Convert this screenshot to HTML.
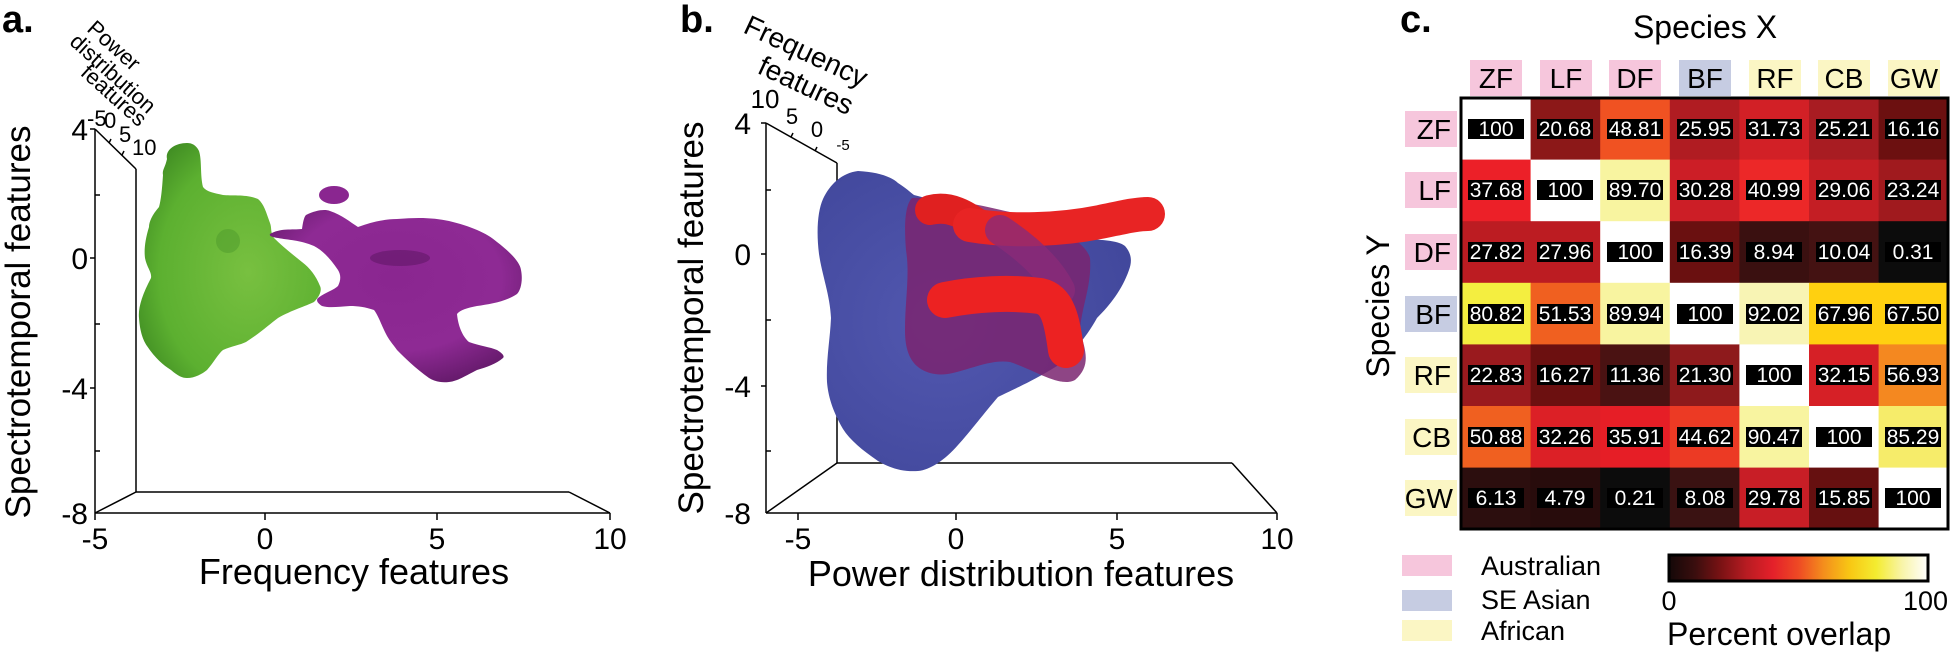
<!DOCTYPE html>
<html><head><meta charset="utf-8"><style>
html,body{margin:0;padding:0;background:#fff;}
svg{display:block;font-family:"Liberation Sans",Arial,sans-serif;}
</style></head><body>
<svg width="1953" height="658" viewBox="0 0 1953 658" xmlns="http://www.w3.org/2000/svg">
<defs>
<radialGradient id="gg" cx="0.6" cy="0.55" r="0.7"><stop offset="0" stop-color="#78c040"/><stop offset="0.7" stop-color="#5cb030"/><stop offset="1" stop-color="#3e8a22"/></radialGradient>
<radialGradient id="pg" cx="0.5" cy="0.4" r="0.7"><stop offset="0" stop-color="#8a2690"/><stop offset="0.6" stop-color="#8e2a94"/><stop offset="1" stop-color="#5a1660"/></radialGradient>
<radialGradient id="bg" cx="0.4" cy="0.5" r="0.7"><stop offset="0" stop-color="#5258b0"/><stop offset="1" stop-color="#40469a"/></radialGradient>
<linearGradient id="cb" x1="0" x2="1" y1="0" y2="0">
<stop offset="0" stop-color="#140808"/><stop offset="0.1" stop-color="#3a0e0e"/><stop offset="0.2" stop-color="#7a1214"/><stop offset="0.3" stop-color="#b81c22"/><stop offset="0.4" stop-color="#e4202a"/><stop offset="0.5" stop-color="#ee4a24"/><stop offset="0.6" stop-color="#f4901c"/><stop offset="0.7" stop-color="#f8c814"/><stop offset="0.8" stop-color="#f4ec30"/><stop offset="0.9" stop-color="#f8f4a8"/><stop offset="1" stop-color="#ffffff"/></linearGradient>
</defs>

<!-- ===== Panel a ===== -->
<text x="2" y="32" font-size="38" font-weight="bold">a.</text>
<g stroke="#000" stroke-width="1.5" fill="none">
<line x1="95" y1="129" x2="95" y2="513"/>
<line x1="136" y1="169" x2="136" y2="492"/>
<line x1="95" y1="129" x2="136" y2="169"/>
<line x1="95" y1="513" x2="610" y2="513"/>
<line x1="136" y1="492" x2="569" y2="492"/>
<line x1="95" y1="513" x2="136" y2="492"/>
<line x1="569" y1="492" x2="610" y2="513"/>
<line x1="95" y1="513" x2="95" y2="520"/><line x1="265" y1="513" x2="265" y2="520"/><line x1="437" y1="513" x2="437" y2="520"/><line x1="610" y1="513" x2="610" y2="520"/>
<line x1="90" y1="129" x2="95" y2="129"/><line x1="95" y1="195" x2="100" y2="195"/><line x1="90" y1="258" x2="95" y2="258"/><line x1="95" y1="324" x2="100" y2="324"/><line x1="90" y1="388" x2="95" y2="388"/><line x1="95" y1="451" x2="100" y2="451"/>
<line x1="109" y1="143" x2="111" y2="139"/><line x1="122" y1="155" x2="124" y2="151"/>
</g>
<g font-size="30" text-anchor="end">
<text x="88" y="140">4</text><text x="88" y="269">0</text><text x="88" y="399">-4</text><text x="88" y="524">-8</text>
</g>
<g font-size="30" text-anchor="middle">
<text x="95" y="549">-5</text><text x="265" y="549">0</text><text x="437" y="549">5</text><text x="610" y="549">10</text>
</g>
<g font-size="22">
<text x="87" y="126">-5</text><text x="104" y="128">0</text><text x="119" y="142">5</text><text x="132" y="155">10</text>
</g>
<g font-size="22" text-anchor="middle">
<text transform="translate(109,51) rotate(42)">Power</text>
<text transform="translate(108,79) rotate(42)">distribution</text>
<text transform="translate(109,101) rotate(42)">features</text>
</g>
<text x="354" y="584" font-size="36" text-anchor="middle">Frequency features</text>
<text transform="translate(30,322) rotate(-90)" font-size="35" text-anchor="middle">Spectrotemporal features</text>
<!-- green blob -->
<path fill="url(#gg)" d="M187,143 C175,143 165,150 167,159 C165,168 162,170 163,175 C162,190 161,200 159,207 C152,215 149,222 149,227 C145,240 144,250 145,258 C147,268 152,272 151,278 C142,295 138,308 139,318 C140,332 143,340 147,346 C155,358 163,365 171,370 C178,376 182,378 187,378 C195,378 202,374 207,370 C214,362 218,354 223,350 C232,346 240,345 246,342 C260,333 270,324 278,318 C292,310 306,306 314,302 C320,296 322,290 320,286 C316,276 310,268 302,262 C292,254 282,246 274,238 C270,232 272,228 270,223 C266,212 264,204 258,199 C246,194 232,196 223,195 C214,193 207,192 203,187 C200,175 202,160 199,151 C196,145 192,143 187,143Z"/>
<ellipse cx="228" cy="241" rx="12" ry="12" fill="#4e9a2c" opacity="0.5"/>
<!-- purple blob -->
<path fill="url(#pg)" d="M270,234 C280,228 292,230 302,229 C303,222 304,217 306,215 C316,210 325,209 330,211 C342,215 350,222 358,227 C372,222 385,219 397,219 C420,217 435,218 449,221 C470,226 487,233 497,242 C510,252 520,262 521,270 C523,280 521,290 517,294 C505,302 490,304 477,306 C467,308 460,310 457,314 C458,325 462,336 469,342 C480,346 490,347 497,350 C502,353 505,356 503,358 C496,364 487,367 477,370 C465,376 458,381 449,382 C440,383 434,381 429,378 C415,368 405,358 397,350 C392,343 389,340 386,334 C381,324 378,315 374,310 C365,307 358,306 350,306 C338,307 328,308 322,306 C317,303 316,300 318,298 C326,292 334,290 338,286 C341,280 341,275 338,270 C330,258 322,250 314,246 C300,240 288,240 278,238 C272,237 269,236 270,234Z"/>
<ellipse cx="400" cy="258" rx="30" ry="8" fill="#5a1460" opacity="0.5"/>
<ellipse cx="334" cy="195" rx="15" ry="9" fill="#8a2690"/>

<!-- ===== Panel b ===== -->
<text x="680" y="32" font-size="38" font-weight="bold">b.</text>
<g stroke="#000" stroke-width="1.5" fill="none">
<line x1="766" y1="123" x2="766" y2="513"/>
<line x1="837" y1="163" x2="837" y2="463"/>
<line x1="766" y1="123" x2="837" y2="163"/>
<line x1="766" y1="513" x2="1277" y2="513"/>
<line x1="837" y1="463" x2="1232" y2="463"/>
<line x1="766" y1="513" x2="837" y2="463"/>
<line x1="1232" y1="463" x2="1277" y2="513"/>
<line x1="798" y1="513" x2="798" y2="520"/><line x1="956" y1="513" x2="956" y2="520"/><line x1="1117" y1="513" x2="1117" y2="520"/><line x1="1277" y1="513" x2="1277" y2="520"/>
<line x1="761" y1="123" x2="766" y2="123"/><line x1="766" y1="190" x2="771" y2="190"/><line x1="761" y1="254" x2="766" y2="254"/><line x1="766" y1="320" x2="771" y2="320"/><line x1="761" y1="386" x2="766" y2="386"/><line x1="766" y1="451" x2="771" y2="451"/>
<line x1="791" y1="137" x2="793" y2="133"/><line x1="815" y1="151" x2="817" y2="147"/>
</g>
<g font-size="30" text-anchor="end">
<text x="751" y="134">4</text><text x="751" y="265">0</text><text x="751" y="397">-4</text><text x="751" y="524">-8</text>
</g>
<g font-size="30" text-anchor="middle">
<text x="798" y="549">-5</text><text x="956" y="549">0</text><text x="1117" y="549">5</text><text x="1277" y="549">10</text>
</g>
<g font-size="22" text-anchor="middle">
<text x="765" y="108" font-size="26">10</text><text x="792" y="124">5</text><text x="817" y="137">0</text><text x="843" y="150" font-size="15">-5</text>
</g>
<g font-size="28" text-anchor="middle">
<text transform="translate(802,60) rotate(25)">Frequency</text>
<text transform="translate(802,94) rotate(25)">features</text>
</g>
<text x="1021" y="586" font-size="36" text-anchor="middle">Power distribution features</text>
<text transform="translate(703,318) rotate(-90)" font-size="35" text-anchor="middle">Spectrotemporal features</text>
<!-- blue blob -->
<path fill="url(#bg)" d="M858,171 C878,172 892,177 898,183 C906,188 910,192 914,195 C940,202 960,205 978,211 C1010,222 1050,230 1077,238 C1100,240 1118,240 1125,246 C1132,254 1132,262 1129,270 C1122,290 1110,305 1097,318 C1085,340 1070,355 1057,366 C1035,380 1012,390 998,397 C985,412 970,432 958,445 C945,460 930,470 918,471 C902,472 890,468 878,461 C862,450 850,440 843,429 C832,410 828,395 827,382 C826,360 830,340 831,318 C830,295 822,275 819,254 C816,230 818,210 823,199 C830,184 842,173 858,171Z"/>
<!-- purple overlap -->
<path fill="#7a2470" opacity="0.85" d="M912,198 C940,196 980,205 1010,212 C1050,222 1085,240 1090,258 C1092,285 1082,305 1080,330 C1085,350 1092,365 1075,380 C1060,388 1035,370 1010,362 C985,358 955,378 935,374 C910,370 905,350 905,330 C905,300 910,275 906,250 C904,225 905,205 912,198Z"/>
<g fill="none" stroke-linecap="round" stroke-linejoin="round">
<path d="M930,210 C950,205 965,215 980,225" stroke="#e02020" stroke-width="30"/>
<path d="M970,225 C1010,232 1060,230 1100,222 C1120,218 1135,214 1148,214" stroke="#e82424" stroke-width="34"/>
<path d="M1000,230 C1030,250 1050,270 1060,290" stroke="#8a2a78" stroke-width="30" opacity="0.8"/>
<path d="M945,300 C975,294 1010,292 1040,296 C1058,300 1062,320 1066,350" stroke="#ec2222" stroke-width="36"/>
</g>

<!-- ===== Panel c ===== -->
<text x="1400" y="32" font-size="38" font-weight="bold">c.</text>
<text x="1705" y="38" font-size="32" text-anchor="middle">Species X</text>
<text transform="translate(1389,306) rotate(-90)" font-size="32" text-anchor="middle">Species Y</text>
<g>
<rect x="1470" y="60" width="52" height="36" fill="#f6c6dc"/>
<rect x="1540" y="60" width="52" height="36" fill="#f6c6dc"/>
<rect x="1609" y="60" width="52" height="36" fill="#f6c6dc"/>
<rect x="1679" y="60" width="52" height="36" fill="#c6cce2"/>
<rect x="1749" y="60" width="52" height="36" fill="#fbf6c4"/>
<rect x="1818" y="60" width="52" height="36" fill="#fbf6c4"/>
<rect x="1888" y="60" width="52" height="36" fill="#fbf6c4"/>
</g>
<g font-size="28" text-anchor="middle">
<text x="1496" y="88">ZF</text><text x="1566" y="88">LF</text><text x="1635" y="88">DF</text><text x="1705" y="88">BF</text><text x="1775" y="88">RF</text><text x="1844" y="88">CB</text><text x="1914" y="88">GW</text>
</g>
<g>
<rect x="1405" y="111" width="52" height="36" fill="#f6c6dc"/>
<rect x="1405" y="172" width="52" height="36" fill="#f6c6dc"/>
<rect x="1405" y="234" width="52" height="36" fill="#f6c6dc"/>
<rect x="1405" y="296" width="52" height="36" fill="#c6cce2"/>
<rect x="1405" y="357" width="52" height="36" fill="#fbf6c4"/>
<rect x="1405" y="419" width="52" height="36" fill="#fbf6c4"/>
<rect x="1405" y="480" width="52" height="36" fill="#fbf6c4"/>
</g>
<g font-size="28" text-anchor="end">
<text x="1451" y="139">ZF</text><text x="1451" y="200">LF</text><text x="1451" y="262">DF</text><text x="1451" y="324">BF</text><text x="1451" y="385">RF</text><text x="1451" y="447">CB</text><text x="1453" y="508">GW</text>
</g>
<g>
<rect x="1461" y="98" width="70" height="62" fill="#ffffff"/><rect x="1530.6" y="98" width="70" height="62" fill="#8c1818"/><rect x="1600.2" y="98" width="70" height="62" fill="#f05222"/><rect x="1669.8" y="98" width="70" height="62" fill="#b01c22"/><rect x="1739.4" y="98" width="70" height="62" fill="#d22026"/><rect x="1809" y="98" width="70" height="62" fill="#a81c22"/><rect x="1878.6" y="98" width="70" height="62" fill="#6c1010"/>
<rect x="1461" y="159.6" width="70" height="62" fill="#ec2028"/><rect x="1530.6" y="159.6" width="70" height="62" fill="#ffffff"/><rect x="1600.2" y="159.6" width="70" height="62" fill="#f8f4a0"/><rect x="1669.8" y="159.6" width="70" height="62" fill="#cc1e26"/><rect x="1739.4" y="159.6" width="70" height="62" fill="#ec2828"/><rect x="1809" y="159.6" width="70" height="62" fill="#c41e24"/><rect x="1878.6" y="159.6" width="70" height="62" fill="#a01a1e"/>
<rect x="1461" y="221.2" width="70" height="62" fill="#bc1c22"/><rect x="1530.6" y="221.2" width="70" height="62" fill="#bc1c22"/><rect x="1600.2" y="221.2" width="70" height="62" fill="#ffffff"/><rect x="1669.8" y="221.2" width="70" height="62" fill="#6a1010"/><rect x="1739.4" y="221.2" width="70" height="62" fill="#3a1010"/><rect x="1809" y="221.2" width="70" height="62" fill="#441212"/><rect x="1878.6" y="221.2" width="70" height="62" fill="#0c0c0c"/>
<rect x="1461" y="282.8" width="70" height="62" fill="#f4ee40"/><rect x="1530.6" y="282.8" width="70" height="62" fill="#f06020"/><rect x="1600.2" y="282.8" width="70" height="62" fill="#f8f4a0"/><rect x="1669.8" y="282.8" width="70" height="62" fill="#ffffff"/><rect x="1739.4" y="282.8" width="70" height="62" fill="#f8f4b4"/><rect x="1809" y="282.8" width="70" height="62" fill="#ffd010"/><rect x="1878.6" y="282.8" width="70" height="62" fill="#ffd010"/>
<rect x="1461" y="344.4" width="70" height="62" fill="#9a1a1e"/><rect x="1530.6" y="344.4" width="70" height="62" fill="#6c1010"/><rect x="1600.2" y="344.4" width="70" height="62" fill="#4a1212"/><rect x="1669.8" y="344.4" width="70" height="62" fill="#8e1a1c"/><rect x="1739.4" y="344.4" width="70" height="62" fill="#ffffff"/><rect x="1809" y="344.4" width="70" height="62" fill="#d62026"/><rect x="1878.6" y="344.4" width="70" height="62" fill="#f48820"/>
<rect x="1461" y="406" width="70" height="62" fill="#f06020"/><rect x="1530.6" y="406" width="70" height="62" fill="#dc2026"/><rect x="1600.2" y="406" width="70" height="62" fill="#e61e26"/><rect x="1669.8" y="406" width="70" height="62" fill="#ec3a24"/><rect x="1739.4" y="406" width="70" height="62" fill="#f8f4a0"/><rect x="1809" y="406" width="70" height="62" fill="#ffffff"/><rect x="1878.6" y="406" width="70" height="62" fill="#f6ec6a"/>
<rect x="1461" y="467.6" width="70" height="62" fill="#2c0e0e"/><rect x="1530.6" y="467.6" width="70" height="62" fill="#280c0c"/><rect x="1600.2" y="467.6" width="70" height="62" fill="#0c0c0c"/><rect x="1669.8" y="467.6" width="70" height="62" fill="#3a1212"/><rect x="1739.4" y="467.6" width="70" height="62" fill="#c81e26"/><rect x="1809" y="467.6" width="70" height="62" fill="#661010"/><rect x="1878.6" y="467.6" width="69.6" height="61.6" fill="#ffffff"/>
</g>
<rect x="1461" y="98" width="487" height="431" fill="none" stroke="#000" stroke-width="3"/>
<g fill="#000">
<rect x="1468" y="119" width="56" height="20"/><rect x="1537" y="119" width="56" height="20"/><rect x="1607" y="119" width="56" height="20"/><rect x="1677" y="119" width="56" height="20"/><rect x="1746" y="119" width="56" height="20"/><rect x="1816" y="119" width="56" height="20"/><rect x="1885" y="119" width="56" height="20"/>
<rect x="1468" y="180" width="56" height="20"/><rect x="1537" y="180" width="56" height="20"/><rect x="1607" y="180" width="56" height="20"/><rect x="1677" y="180" width="56" height="20"/><rect x="1746" y="180" width="56" height="20"/><rect x="1816" y="180" width="56" height="20"/><rect x="1885" y="180" width="56" height="20"/>
<rect x="1468" y="242" width="56" height="20"/><rect x="1537" y="242" width="56" height="20"/><rect x="1607" y="242" width="56" height="20"/><rect x="1677" y="242" width="56" height="20"/><rect x="1746" y="242" width="56" height="20"/><rect x="1816" y="242" width="56" height="20"/><rect x="1885" y="242" width="56" height="20"/>
<rect x="1468" y="304" width="56" height="20"/><rect x="1537" y="304" width="56" height="20"/><rect x="1607" y="304" width="56" height="20"/><rect x="1677" y="304" width="56" height="20"/><rect x="1746" y="304" width="56" height="20"/><rect x="1816" y="304" width="56" height="20"/><rect x="1885" y="304" width="56" height="20"/>
<rect x="1468" y="365" width="56" height="20"/><rect x="1537" y="365" width="56" height="20"/><rect x="1607" y="365" width="56" height="20"/><rect x="1677" y="365" width="56" height="20"/><rect x="1746" y="365" width="56" height="20"/><rect x="1816" y="365" width="56" height="20"/><rect x="1885" y="365" width="56" height="20"/>
<rect x="1468" y="427" width="56" height="20"/><rect x="1537" y="427" width="56" height="20"/><rect x="1607" y="427" width="56" height="20"/><rect x="1677" y="427" width="56" height="20"/><rect x="1746" y="427" width="56" height="20"/><rect x="1816" y="427" width="56" height="20"/><rect x="1885" y="427" width="56" height="20"/>
<rect x="1468" y="488" width="56" height="20"/><rect x="1537" y="488" width="56" height="20"/><rect x="1607" y="488" width="56" height="20"/><rect x="1677" y="488" width="56" height="20"/><rect x="1746" y="488" width="56" height="20"/><rect x="1816" y="488" width="56" height="20"/><rect x="1885" y="488" width="56" height="20"/>
</g>
<g fill="#fff" font-size="21" text-anchor="middle">
<text x="1496" y="136">100</text><text x="1565" y="136">20.68</text><text x="1635" y="136">48.81</text><text x="1705" y="136">25.95</text><text x="1774" y="136">31.73</text><text x="1844" y="136">25.21</text><text x="1913" y="136">16.16</text>
<text x="1496" y="197">37.68</text><text x="1565" y="197">100</text><text x="1635" y="197">89.70</text><text x="1705" y="197">30.28</text><text x="1774" y="197">40.99</text><text x="1844" y="197">29.06</text><text x="1913" y="197">23.24</text>
<text x="1496" y="259">27.82</text><text x="1565" y="259">27.96</text><text x="1635" y="259">100</text><text x="1705" y="259">16.39</text><text x="1774" y="259">8.94</text><text x="1844" y="259">10.04</text><text x="1913" y="259">0.31</text>
<text x="1496" y="321">80.82</text><text x="1565" y="321">51.53</text><text x="1635" y="321">89.94</text><text x="1705" y="321">100</text><text x="1774" y="321">92.02</text><text x="1844" y="321">67.96</text><text x="1913" y="321">67.50</text>
<text x="1496" y="382">22.83</text><text x="1565" y="382">16.27</text><text x="1635" y="382">11.36</text><text x="1705" y="382">21.30</text><text x="1774" y="382">100</text><text x="1844" y="382">32.15</text><text x="1913" y="382">56.93</text>
<text x="1496" y="444">50.88</text><text x="1565" y="444">32.26</text><text x="1635" y="444">35.91</text><text x="1705" y="444">44.62</text><text x="1774" y="444">90.47</text><text x="1844" y="444">100</text><text x="1913" y="444">85.29</text>
<text x="1496" y="505">6.13</text><text x="1565" y="505">4.79</text><text x="1635" y="505">0.21</text><text x="1705" y="505">8.08</text><text x="1774" y="505">29.78</text><text x="1844" y="505">15.85</text><text x="1913" y="505">100</text>
</g>
<rect x="1402" y="555" width="50" height="21" fill="#f6c6dc"/>
<rect x="1402" y="590" width="50" height="21" fill="#c6cce2"/>
<rect x="1402" y="620" width="50" height="21" fill="#fbf6c4"/>
<g font-size="27">
<text x="1481" y="575">Australian</text><text x="1481" y="609">SE Asian</text><text x="1481" y="640">African</text>
</g>
<rect x="1669" y="555" width="259" height="26" fill="url(#cb)" stroke="#000" stroke-width="3"/>
<text x="1669" y="610" font-size="27" text-anchor="middle">0</text>
<text x="1948" y="610" font-size="27" text-anchor="end">100</text>
<text x="1667" y="645" font-size="32">Percent overlap</text>
</svg>
</body></html>
